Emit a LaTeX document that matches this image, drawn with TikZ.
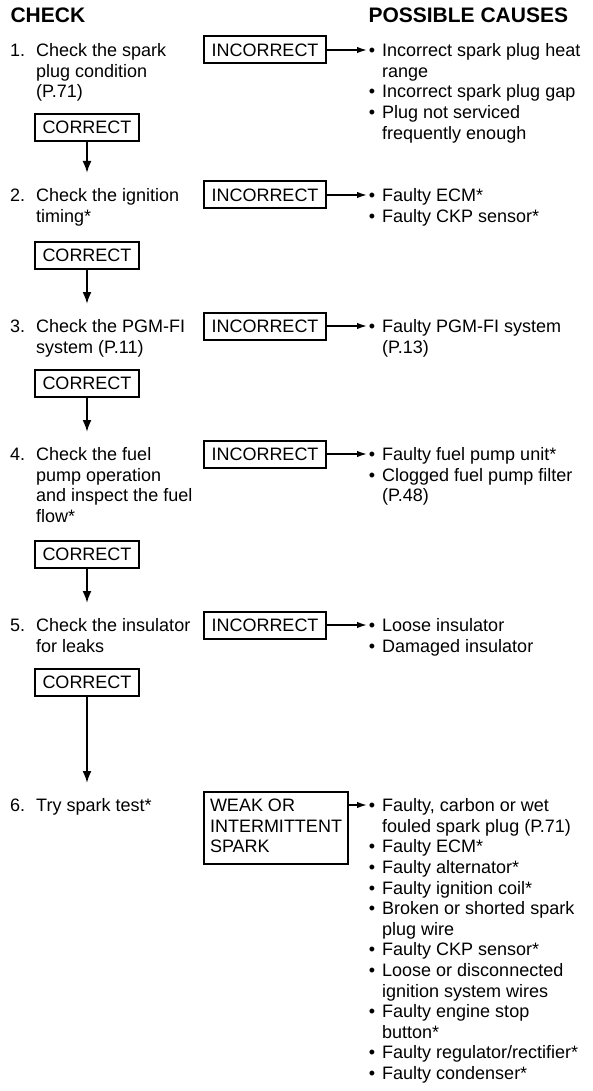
\documentclass[tikz,border=0pt]{standalone}
\usepackage{fontspec}
\setmainfont{Liberation Sans}
\usetikzlibrary{arrows.meta}

\newcommand{\bodyfont}{\fontsize{18}{20.6}\selectfont}
\newcommand{\headfont}{\fontsize{21}{24}\selectfont\bfseries}
\newcommand{\bul}{\llap{\textbullet\hskip 7pt}}
\newcommand{\stepno}[1]{\llap{\makebox[26pt][l]{#1}}}

\begin{document}
\begin{tikzpicture}[x=1pt,y=-1pt,
    check/.style={anchor=north west,inner sep=0pt,align=left,font=\bodyfont},
    cause/.style={check},
    okbox/.style={draw,line width=2pt,font=\bodyfont,inner xsep=7.5pt,minimum height=27pt,anchor=west},
    down/.style={line width=2pt,-{Latex[length=12pt,width=9pt]},shorten >=14pt},
    side/.style={line width=1.6pt,-{Latex[length=10pt,width=6.5pt]}}]
    \useasboundingbox (0,0) rectangle (592,1091);

    \node[anchor=base west,font=\headfont] (hcheck) at (7,23) {CHECK};
    \node[anchor=base west,font=\headfont] (hcauses) at (365,23) {POSSIBLE CAUSES};

    %step 1
    \node[check] (s1) at (36,42) {\strut\stepno{1.}Check the spark\\plug condition\\(P.71)};
    \node[okbox] (bad1) at (203,50) {INCORRECT};
    \coordinate (c1) at (367,50);
    \node[cause] (r1) at (382,42) {\strut\bul Incorrect spark plug heat\\range\\\bul Incorrect spark plug gap\\\bul Plug not serviced\\frequently enough};
    \draw[side] (bad1) -- (c1);
    \node[okbox] (ok1) at (34,127.5) {CORRECT};

    %step 2
    \node[check] (s2) at (36,187) {\strut\stepno{2.}Check the ignition\\timing*};
    \node[okbox] (bad2) at (203,195) {INCORRECT};
    \coordinate (c2) at (367,195);
    \node[cause] (r2) at (382,187) {\strut\bul Faulty ECM*\\\bul Faulty CKP sensor*};
    \draw[side] (bad2) -- (c2);
    \node[okbox] (ok2) at (34,255.5) {CORRECT};
    \draw[down] (ok1.south) -- (ok1.south |- s2.north);

    %step 3
    \node[check] (s3) at (36,318) {\strut\stepno{3.}Check the PGM-FI\\system (P.11)};
    \node[okbox] (bad3) at (203,326) {INCORRECT};
    \coordinate (c3) at (367,326);
    \node[cause] (r3) at (382,318) {\strut\bul Faulty PGM-FI system\\(P.13)};
    \draw[side] (bad3) -- (c3);
    \node[okbox] (ok3) at (34,383) {CORRECT};
    \draw[down] (ok2.south) -- (ok2.south |- s3.north);

    %step 4
    \node[check] (s4) at (36,446) {\strut\stepno{4.}Check the fuel\\pump operation\\and inspect the fuel\\flow*};
    \node[okbox] (bad4) at (203,454) {INCORRECT};
    \coordinate (c4) at (367,454);
    \node[cause] (r4) at (382,446) {\strut\bul Faulty fuel pump unit*\\\bul Clogged fuel pump filter\\(P.48)};
    \draw[side] (bad4) -- (c4);
    \node[okbox] (ok4) at (34,554.5) {CORRECT};
    \draw[down] (ok3.south) -- (ok3.south |- s4.north);

    %step 5
    \node[check] (s5) at (36,617) {\strut\stepno{5.}Check the insulator\\for leaks};
    \node[okbox] (bad5) at (203,625) {INCORRECT};
    \coordinate (c5) at (367,625);
    \node[cause] (r5) at (382,617) {\strut\bul Loose insulator\\\bul Damaged insulator};
    \draw[side] (bad5) -- (c5);
    \node[okbox] (ok5) at (34,682) {CORRECT};
    \draw[down] (ok4.south) -- (ok4.south |- s5.north);

    %step 6
    \node[check] (s6) at (36,797) {\strut\stepno{6.}Try spark test*};
    \node[draw,line width=2pt,anchor=north west,align=left,font=\bodyfont,inner xsep=6pt,inner ysep=5pt]
        (weak) at (203,791) {\strut WEAK OR\\INTERMITTENT\\SPARK\strut};
    \coordinate (c6) at (367,805);
    \node[cause] (r6) at (382,797) {\strut\bul Faulty, carbon or wet\\fouled spark plug (P.71)\\\bul Faulty ECM*\\\bul Faulty alternator*\\\bul Faulty ignition coil*\\\bul Broken or shorted spark\\plug wire\\\bul Faulty CKP sensor*\\\bul Loose or disconnected\\ignition system wires\\\bul Faulty engine stop\\button*\\\bul Faulty regulator/rectifier*\\\bul Faulty condenser*};
    \draw[side] (weak.east |- c6) -- (c6);
    \draw[down] (ok5.south) -- (ok5.south |- s6.north);
\end{tikzpicture}
\end{document}
